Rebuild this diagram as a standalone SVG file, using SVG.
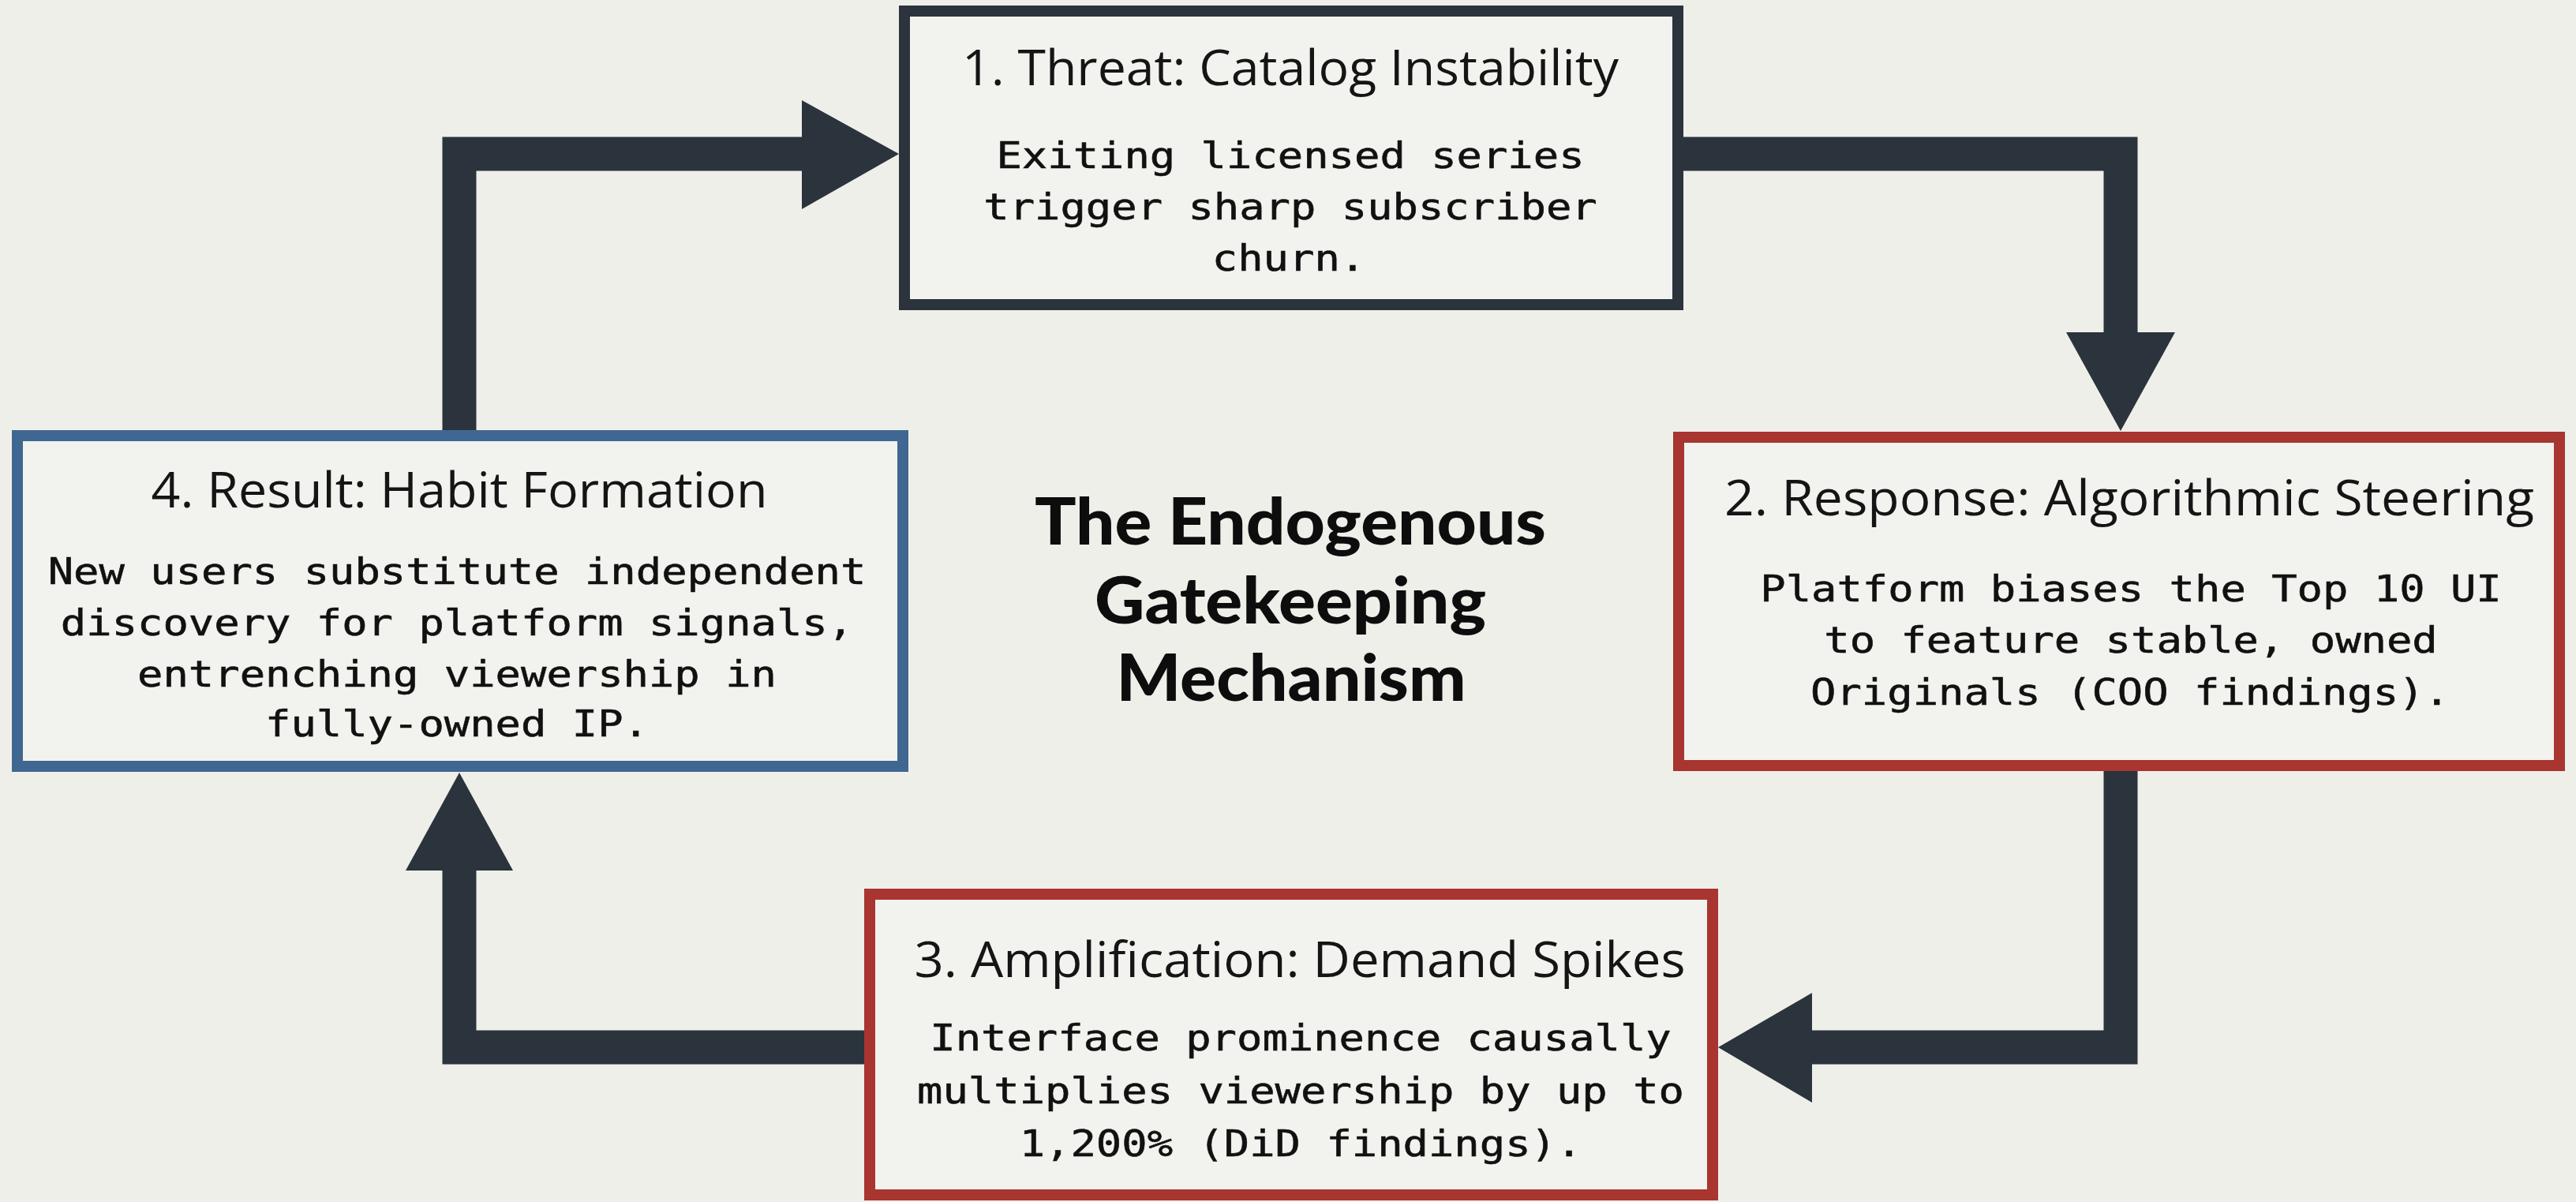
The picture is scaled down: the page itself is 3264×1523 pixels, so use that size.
<svg xmlns="http://www.w3.org/2000/svg" width="3264" height="1523" viewBox="0 0 3264 1523">
<defs>
<style>
.bg{fill:#efefea}
.box{fill:#f2f2ee;stroke-width:14}
.dark{stroke:#2b333c}
.red{stroke:#a8352f}
.blue{stroke:#3f6791}
.ttl{font-family:"Open Sans","Liberation Sans",sans-serif;font-size:62px;fill:#151515;text-anchor:middle}
.body{font-family:"DejaVu Sans Mono","Liberation Mono",monospace;font-size:47px;fill:#111;stroke:#111;stroke-width:0.6;text-anchor:middle}
.main{font-family:Lato,"Liberation Sans",sans-serif;font-weight:900;font-size:81px;fill:#0d0d0d;text-anchor:middle}
.conn{fill:none;stroke:#2b333c;stroke-width:43;stroke-linejoin:miter;stroke-linecap:butt}
.head{fill:#2b333c}
</style>
</defs>
<rect class="bg" x="0" y="0" width="3264" height="1523"/>
<g id="connectors">
<path class="conn" d="M582,545 L582,195 L1020,195"/>
<polygon class="head" points="1016,127 1139,195 1016,265"/>
<path class="conn" d="M2133,195 L2687,195 L2687,425"/>
<polygon class="head" points="2618,421 2756,421 2687,546"/>
<path class="conn" d="M2687,977 L2687,1327 L2292,1327"/>
<polygon class="head" points="2296,1258 2296,1397 2177,1327"/>
<path class="conn" d="M1095,1327 L582,1327 L582,1099"/>
<polygon class="head" points="514,1103 650,1103 582,979"/>
</g>
<g id="node1">
<rect class="box dark" x="1146" y="14" width="980" height="372"/>
<text class="ttl" x="1635" y="108" textLength="832" lengthAdjust="spacingAndGlyphs">1. Threat: Catalog Instability</text>
<text class="body" transform="translate(1635,213) scale(1.145,1)">Exiting licensed series</text>
<text class="body" transform="translate(1635,278) scale(1.145,1)">trigger sharp subscriber</text>
<text class="body" transform="translate(1633,343) scale(1.145,1)">churn.</text>
</g>
<g id="node2">
<rect class="box red" x="2127" y="554" width="1116" height="416"/>
<text class="ttl" x="2698" y="653" textLength="1026" lengthAdjust="spacingAndGlyphs">2. Response: Algorithmic Steering</text>
<text class="body" transform="translate(2700,762) scale(1.145,1)">Platform biases the Top 10 UI</text>
<text class="body" transform="translate(2700,827) scale(1.145,1)">to feature stable, owned</text>
<text class="body" transform="translate(2699,893) scale(1.145,1)">Originals (COO findings).</text>
</g>
<g id="node3">
<rect class="box red" x="1102" y="1133" width="1068" height="381"/>
<text class="ttl" x="1647" y="1238" textLength="977" lengthAdjust="spacingAndGlyphs">3. Amplification: Demand Spikes</text>
<text class="body" transform="translate(1648,1331) scale(1.145,1)">Interface prominence causally</text>
<text class="body" transform="translate(1648,1398) scale(1.145,1)">multiplies viewership by up to</text>
<text class="body" transform="translate(1648,1465) scale(1.145,1)">1,200% (DiD findings).</text>
</g>
<g id="node4">
<rect class="box blue" x="22" y="552" width="1122" height="419"/>
<text class="ttl" x="582" y="643" textLength="781" lengthAdjust="spacingAndGlyphs">4. Result: Habit Formation</text>
<text class="body" transform="translate(579,740) scale(1.145,1)">New users substitute independent</text>
<text class="body" transform="translate(579,805) scale(1.145,1)">discovery for platform signals,</text>
<text class="body" transform="translate(579,870) scale(1.145,1)">entrenching viewership in</text>
<text class="body" transform="translate(579,933) scale(1.145,1)">fully-owned IP.</text>
</g>
<g id="title">
<text class="main" x="1635" y="690" textLength="648" lengthAdjust="spacingAndGlyphs">The Endogenous</text>
<text class="main" x="1635" y="790" textLength="496" lengthAdjust="spacingAndGlyphs">Gatekeeping</text>
<text class="main" x="1636" y="888" textLength="443" lengthAdjust="spacingAndGlyphs">Mechanism</text>
</g>
</svg>
